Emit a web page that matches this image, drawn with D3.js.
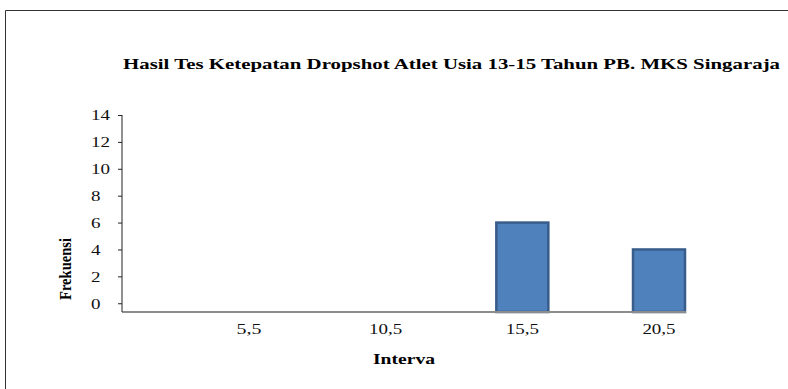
<!DOCTYPE html>
<html><head><meta charset="utf-8">
<script src="https://cdn.jsdelivr.net/npm/d3@7"></script>
<style>body{margin:0;background:#fff}svg{display:block}</style>
</head><body>
<svg id="c" width="788" height="389"></svg>
<script>
const categories = ["5,5", "10,5", "15,5", "20,5"];
const values = [0, 0, 6, 4];
const yTicks = [0, 2, 4, 6, 8, 10, 12, 14];
const titleText = "Hasil Tes Ketepatan Dropshot Atlet Usia 13-15 Tahun PB. MKS Singaraja";
const xTitle = "Interva";
const yTitle = "Frekuensi";

const svg = d3.select("#c");
const serif = "'Liberation Serif','DejaVu Serif',serif";

// frame
svg.append("path").attr("d", "M5.5,389 V10.5 H788").attr("fill", "none").attr("stroke", "#333").attr("stroke-width", 1);

const x = d3.scalePoint().domain(categories).range([249, 659]);
const y = d3.scaleLinear().domain([-0.65, 14]).range([312, 115]);
const barW = 52;

// title
svg.append("text").attr("x", 123).attr("y", 69).attr("font-family", serif).attr("font-weight", "bold")
  .attr("font-size", 15).attr("textLength", 657).attr("lengthAdjust", "spacingAndGlyphs").attr("fill", "#000").text(titleText);

// bars
svg.append("g").selectAll("rect").data(values.map((v, i) => ({c: categories[i], v})).filter(d => d.v > 0))
  .join("rect")
  .attr("x", d => x(d.c) - barW / 2)
  .attr("width", barW)
  .attr("y", d => y(d.v))
  .attr("height", d => y(-0.65) - y(d.v))
  .attr("fill", "#4f81bd").attr("stroke", "#385d8a").attr("stroke-width", 2.5);

// x axis line
svg.append("line").attr("x1", 122).attr("x2", 686).attr("y1", 312).attr("y2", 312).attr("stroke", "#8c8c8c").attr("stroke-width", 2);

// y axis
const yAxis = svg.append("g").attr("transform", "translate(122,0)")
  .call(d3.axisLeft(y).tickValues(yTicks).tickSize(4).tickFormat(d => d));
yAxis.select(".domain").attr("d", "M0,115V312").attr("stroke", "#222");
yAxis.selectAll(".tick line").attr("stroke", "#222");
yAxis.selectAll(".tick text")
  .attr("font-family", serif).attr("font-size", 15).attr("fill", "#111")
  .attr("text-anchor", "start").attr("x", -31)
  .attr("textLength", d => String(d).length * 9.5).attr("lengthAdjust", "spacingAndGlyphs");

// x tick labels
svg.append("g").selectAll("text").data(categories).join("text")
  .attr("x", d => x(d)).attr("y", 334).attr("text-anchor", "middle")
  .attr("font-family", serif).attr("font-size", 14).attr("fill", "#111")
  .attr("textLength", d => d.length * 8.3).attr("lengthAdjust", "spacingAndGlyphs")
  .text(d => d);

// axis titles
svg.append("text").attr("x", 404).attr("y", 364).attr("text-anchor", "middle")
  .attr("font-family", serif).attr("font-weight", "bold").attr("font-size", 14)
  .attr("textLength", 62).attr("lengthAdjust", "spacingAndGlyphs").text(xTitle);

svg.append("text").attr("transform", "translate(71,269) rotate(-90)").attr("text-anchor", "middle")
  .attr("font-family", serif).attr("font-weight", "bold").attr("font-size", 17)
  .attr("textLength", 62).attr("lengthAdjust", "spacingAndGlyphs").text(yTitle);
</script>
</body></html>
